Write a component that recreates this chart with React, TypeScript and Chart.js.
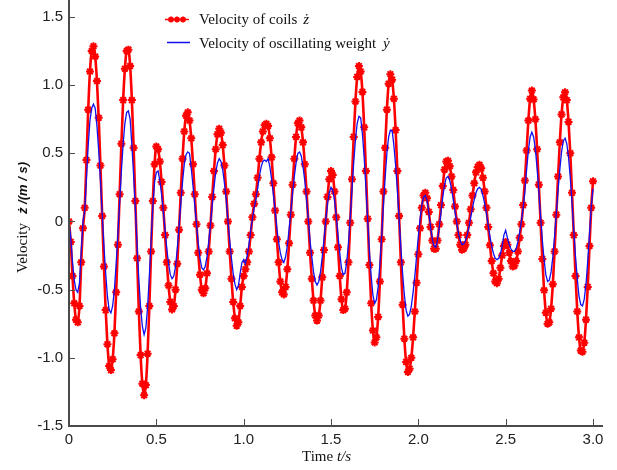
import React, { useEffect, useRef } from 'react';
import { Chart, registerables } from 'chart.js';

Chart.register(...registerables);

// Sampling step of the time axis (s)
const TIME_STEP = 0.01;

// Velocity of coils ż (m/s), sampled every 0.01 s from 0 to 3.0 s
const coilVelocity = [
  0.00, -0.15, -0.40, -0.60, -0.72, -0.74, -0.62, -0.30, -0.05, 0.10,
  0.45, 0.82, 1.10, 1.25, 1.285, 1.21, 1.03, 0.76, 0.41, 0.04,
  -0.33, -0.65, -0.90, -1.06, -1.09, -1.01, -0.82, -0.52, -0.17, 0.20,
  0.57, 0.89, 1.12, 1.25, 1.26, 1.14, 0.89, 0.54, 0.15, -0.27,
  -0.66, -0.98, -1.19, -1.275, -1.20, -0.97, -0.62, -0.22, 0.15, 0.42,
  0.55, 0.53, 0.44, 0.29, 0.10, -0.10, -0.30, -0.47, -0.59, -0.645,
  -0.62, -0.50, -0.31, -0.06, 0.21, 0.46, 0.66, 0.775, 0.80, 0.74,
  0.61, 0.42, 0.20, -0.02, -0.23, -0.39, -0.50, -0.527, -0.49, -0.38,
  -0.22, -0.03, 0.18, 0.37, 0.53, 0.64, 0.68, 0.65, 0.56, 0.41,
  0.22, 0.00, -0.22, -0.42, -0.59, -0.71, -0.765, -0.74, -0.62, -0.48,
  -0.40, -0.35, -0.30, -0.22, -0.10, 0.03, 0.13, 0.20, 0.32, 0.46,
  0.58, 0.66, 0.705, 0.717, 0.70, 0.61, 0.47, 0.28, 0.08, -0.13,
  -0.30, -0.44, -0.52, -0.535, -0.48, -0.35, -0.16, 0.05, 0.27, 0.46,
  0.62, 0.72, 0.74, 0.69, 0.58, 0.42, 0.22, 0.00, -0.23, -0.42,
  -0.58, -0.69, -0.727, -0.69, -0.58, -0.41, -0.21, 0.00, 0.18, 0.31,
  0.37, 0.34, 0.22, 0.03, -0.19, -0.40, -0.57, -0.65, -0.64, -0.52,
  -0.30, -0.01, 0.31, 0.62, 0.88, 1.06, 1.14, 1.10, 0.95, 0.69,
  0.37, 0.02, -0.32, -0.60, -0.80, -0.887, -0.85, -0.70, -0.44, -0.13,
  0.22, 0.54, 0.82, 1.01, 1.08, 1.04, 0.90, 0.67, 0.37, 0.04,
  -0.30, -0.61, -0.86, -1.03, -1.104, -1.08, -1.00, -0.85, -0.66, -0.45,
  -0.24, -0.05, 0.10, 0.19, 0.21, 0.17, 0.07, -0.04, -0.14, -0.20,
  -0.20, -0.14, -0.02, 0.12, 0.26, 0.38, 0.44, 0.445, 0.405, 0.33,
  0.23, 0.11, 0.00, -0.10, -0.17, -0.207, -0.20, -0.17, -0.10, -0.01,
  0.09, 0.19, 0.28, 0.36, 0.40, 0.415, 0.39, 0.32, 0.22, 0.10,
  -0.04, -0.175, -0.29, -0.38, -0.44, -0.453, -0.42, -0.34, -0.25, -0.18,
  -0.15, -0.17, -0.23, -0.29, -0.33, -0.325, -0.29, -0.22, -0.12, -0.02,
  0.12, 0.30, 0.52, 0.74, 0.90, 0.96, 0.895, 0.75, 0.53, 0.27,
  -0.01, -0.275, -0.505, -0.67, -0.75, -0.74, -0.64, -0.46, -0.22, 0.05,
  0.33, 0.58, 0.785, 0.91, 0.947, 0.89, 0.73, 0.50, 0.21, -0.10,
  -0.40, -0.66, -0.85, -0.947, -0.955, -0.89, -0.72, -0.48, -0.18, 0.10,
  0.295,
];

// Velocity of oscillating weight ẏ (m/s), same sampling
const weightVelocity = [
  0.00, -0.12, -0.30, -0.43, -0.50, -0.52, -0.45, -0.22, 0.00, 0.08,
  0.32, 0.56, 0.74, 0.83, 0.86, 0.83, 0.70, 0.52, 0.30, 0.06,
  -0.18, -0.38, -0.55, -0.65, -0.67, -0.62, -0.50, -0.31, -0.09, 0.14,
  0.37, 0.57, 0.72, 0.80, 0.81, 0.75, 0.56, 0.34, 0.09, -0.18,
  -0.43, -0.63, -0.77, -0.83, -0.78, -0.63, -0.40, -0.14, 0.11, 0.29,
  0.36, 0.37, 0.30, 0.20, 0.07, -0.06, -0.20, -0.31, -0.39, -0.42,
  -0.40, -0.33, -0.20, -0.04, 0.13, 0.29, 0.42, 0.49, 0.51, 0.50,
  0.39, 0.26, 0.12, -0.02, -0.16, -0.27, -0.34, -0.355, -0.33, -0.26,
  -0.15, -0.02, 0.12, 0.25, 0.36, 0.43, 0.46, 0.44, 0.38, 0.28,
  0.16, 0.01, -0.14, -0.27, -0.38, -0.46, -0.50, -0.47, -0.38, -0.30,
  -0.28, -0.31, -0.25, -0.17, -0.07, 0.02, 0.10, 0.16, 0.24, 0.33,
  0.40, 0.44, 0.45, 0.44, 0.46, 0.40, 0.31, 0.20, 0.08, -0.05,
  -0.15, -0.23, -0.28, -0.30, -0.26, -0.18, -0.06, 0.07, 0.21, 0.33,
  0.43, 0.50, 0.51, 0.48, 0.40, 0.30, 0.16, 0.02, -0.14, -0.26,
  -0.37, -0.44, -0.466, -0.44, -0.37, -0.26, -0.13, 0.01, 0.13, 0.21,
  0.25, 0.23, 0.16, 0.04, -0.10, -0.23, -0.34, -0.39, -0.38, -0.30,
  -0.16, 0.03, 0.23, 0.43, 0.60, 0.72, 0.77, 0.76, 0.64, 0.47,
  0.25, 0.01, -0.22, -0.40, -0.54, -0.60, -0.575, -0.48, -0.31, -0.11,
  0.12, 0.32, 0.50, 0.62, 0.67, 0.665, 0.56, 0.41, 0.23, 0.02,
  -0.19, -0.38, -0.54, -0.65, -0.695, -0.68, -0.62, -0.52, -0.40, -0.255,
  -0.11, 0.02, 0.12, 0.18, 0.19, 0.155, 0.065, -0.04, -0.13, -0.18,
  -0.19, -0.135, -0.04, 0.07, 0.18, 0.27, 0.32, 0.33, 0.30, 0.24,
  0.16, 0.07, -0.01, -0.09, -0.14, -0.17, -0.165, -0.14, -0.10, -0.04,
  0.03, 0.10, 0.16, 0.21, 0.24, 0.25, 0.235, 0.19, 0.13, 0.06,
  -0.03, -0.11, -0.18, -0.235, -0.27, -0.28, -0.27, -0.24, -0.18, -0.10,
  -0.065, -0.12, -0.17, -0.20, -0.22, -0.22, -0.20, -0.15, -0.08, 0.00,
  0.10, 0.22, 0.38, 0.52, 0.62, 0.655, 0.62, 0.53, 0.39, 0.22,
  0.04, -0.14, -0.28, -0.39, -0.44, -0.43, -0.37, -0.26, -0.11, 0.06,
  0.23, 0.38, 0.51, 0.59, 0.61, 0.57, 0.47, 0.32, 0.135, -0.065,
  -0.26, -0.42, -0.55, -0.61, -0.62, -0.57, -0.46, -0.29, -0.09, 0.11,
  0.24,
];

const times = coilVelocity.map((_, i) => Math.round(i * TIME_STEP * 1000) / 1000);

const xTickValues = [0, 0.5, 1, 1.5, 2, 2.5, 3];
const xTickLabels = ['0', '0.5', '1.0', '1.5', '2.0', '2.5', '3.0'];
const yTickValues = [-1.5, -1, -0.5, 0, 0.5, 1, 1.5];
const yTickLabels = ['-1.5', '-1.0', '-0.5', '0', '0.5', '1.0', '1.5'];

const seriesLabels = ['Velocity of coils', 'Velocity of oscillating weight'];
const seriesSymbols = ['ż', 'ẏ'];
const xTitle = ['Time ', 't/s'];
const yTitle = ['Velocity', 'ż /(m / s)'];

const RED = '#ff0000';
const BLUE = '#1010f0';
const AXIS = '#4a4a4a';
const SERIF = '"Liberation Serif", "Times New Roman", serif';
const SANS = '"Liberation Sans", Arial, sans-serif';

function drawStar(ctx: CanvasRenderingContext2D, cx: number, cy: number, r: number) {
  const d = r * 0.7071;
  ctx.beginPath();
  ctx.moveTo(cx - r, cy); ctx.lineTo(cx + r, cy);
  ctx.moveTo(cx, cy - r); ctx.lineTo(cx, cy + r);
  ctx.moveTo(cx - d, cy - d); ctx.lineTo(cx + d, cy + d);
  ctx.moveTo(cx - d, cy + d); ctx.lineTo(cx + d, cy - d);
  ctx.stroke();
}

const decorPlugin = {
  id: 'decor',
  afterDraw(chart: any) {
    const { ctx, chartArea, scales } = chart;
    const xs = scales.x;
    const ys = scales.y;
    ctx.save();
    // axes
    ctx.strokeStyle = AXIS;
    ctx.lineWidth = 2;
    ctx.beginPath();
    ctx.moveTo(chartArea.left, 0);
    ctx.lineTo(chartArea.left, chartArea.bottom);
    ctx.lineTo(chartArea.right, chartArea.bottom);
    ctx.stroke();
    // inward ticks
    ctx.lineWidth = 1;
    yTickValues.forEach((v) => {
      const py = Math.round(ys.getPixelForValue(v)) + 0.5;
      ctx.beginPath();
      ctx.moveTo(chartArea.left, py);
      ctx.lineTo(chartArea.left + 6, py);
      ctx.stroke();
    });
    xTickValues.forEach((v) => {
      const px = Math.round(xs.getPixelForValue(v)) + 0.5;
      ctx.beginPath();
      ctx.moveTo(px, chartArea.bottom);
      ctx.lineTo(px, chartArea.bottom - 7);
      ctx.stroke();
    });

    ctx.textAlign = 'left';
    ctx.textBaseline = 'alphabetic';
    ctx.fillStyle = '#111';

    // legend
    ctx.strokeStyle = RED;
    ctx.lineWidth = 1.5;
    ctx.beginPath();
    ctx.moveTo(165, 19.5);
    ctx.lineTo(189, 19.5);
    ctx.stroke();
    ctx.lineWidth = 1.8;
    [171, 177, 183].forEach((sx) => drawStar(ctx, sx, 19.5, 3));
    ctx.font = `15px ${SERIF}`;
    ctx.fillText(seriesLabels[0], 199, 24);
    let w = ctx.measureText(seriesLabels[0]).width;
    ctx.font = `italic 15px ${SERIF}`;
    ctx.fillText(seriesSymbols[0], 199 + w + 6, 24);

    ctx.strokeStyle = BLUE;
    ctx.lineWidth = 1.5;
    ctx.beginPath();
    ctx.moveTo(167, 42.5);
    ctx.lineTo(190, 42.5);
    ctx.stroke();
    ctx.font = `15px ${SERIF}`;
    ctx.fillText(seriesLabels[1], 199, 48);
    w = ctx.measureText(seriesLabels[1]).width;
    ctx.font = `italic 15px ${SERIF}`;
    ctx.fillText(seriesSymbols[1], 199 + w + 7, 48);

    // x title
    ctx.font = `15px ${SERIF}`;
    ctx.fillText(xTitle[0], 302, 461);
    w = ctx.measureText(xTitle[0]).width;
    ctx.font = `italic 15px ${SERIF}`;
    ctx.fillText(xTitle[1], 302 + w, 461);

    // y title
    ctx.save();
    ctx.translate(27, 273);
    ctx.rotate(-Math.PI / 2);
    ctx.font = `15px ${SERIF}`;
    ctx.fillText(yTitle[0], 0, 0);
    w = ctx.measureText(yTitle[0]).width;
    ctx.font = `italic bold 13px ${SANS}`;
    ctx.fillText(yTitle[1], w + 9, 0);
    ctx.restore();

    ctx.restore();
  },
};

export default function App() {
  const canvasRef = useRef<HTMLCanvasElement | null>(null);

  useEffect(() => {
    if (!canvasRef.current) return;
    const chart = new Chart(canvasRef.current, {
      type: 'line',
      data: {
        datasets: [
          {
            label: seriesLabels[0],
            data: times.map((t, i) => ({ x: t, y: coilVelocity[i] })),
            borderColor: RED,
            borderWidth: 2.6,
            pointStyle: 'star',
            pointRadius: 4,
            pointBorderWidth: 2,
            pointBorderColor: RED,
            pointBackgroundColor: RED,
            cubicInterpolationMode: 'monotone',
            fill: false,
            order: 1,
          },
          {
            label: seriesLabels[1],
            data: times.map((t, i) => ({ x: t, y: weightVelocity[i] })),
            borderColor: BLUE,
            borderWidth: 1.3,
            pointRadius: 0,
            tension: 0,
            fill: false,
            order: 0,
          },
        ],
      },
      options: {
        responsive: false,
        animation: false,
        devicePixelRatio: 1,
        events: [],
        layout: { padding: { left: 0, right: 14, top: 1, bottom: 0 } },
        plugins: {
          legend: { display: false },
          tooltip: { enabled: false },
        },
        scales: {
          x: {
            type: 'linear',
            min: 0,
            max: 3.0573,
            grid: { display: false, drawTicks: false },
            border: { display: false },
            afterBuildTicks: (scale: any) => {
              scale.ticks = xTickValues.map((v) => ({ value: v }));
            },
            afterFit: (scale: any) => {
              scale.height = 44;
              scale.paddingLeft = 0;
              scale.paddingRight = 0;
            },
            ticks: {
              autoSkip: false,
              maxRotation: 0,
              padding: 5,
              color: '#222',
              font: { family: SANS, size: 15 },
              callback: (_v: any, i: number) => xTickLabels[i],
            },
          },
          y: {
            type: 'linear',
            min: -1.5,
            max: 1.58,
            grid: { display: false, drawTicks: false },
            border: { display: false },
            afterBuildTicks: (scale: any) => {
              scale.ticks = yTickValues.map((v) => ({ value: v }));
            },
            afterFit: (scale: any) => {
              scale.width = 69;
              scale.paddingTop = 0;
              scale.paddingBottom = 0;
            },
            ticks: {
              autoSkip: false,
              padding: 6,
              color: '#222',
              font: { family: SANS, size: 15 },
              callback: (_v: any, i: number) => yTickLabels[i],
            },
          },
        },
      },
      plugins: [decorPlugin],
    } as any);
    return () => chart.destroy();
  }, []);

  return (
    <div style={{ position: 'fixed', left: 0, top: 0, width: 617, height: 470, background: '#fff' }}>
      <canvas ref={canvasRef} width={617} height={470} style={{ display: 'block', width: 617, height: 470 }} />
    </div>
  );
}
